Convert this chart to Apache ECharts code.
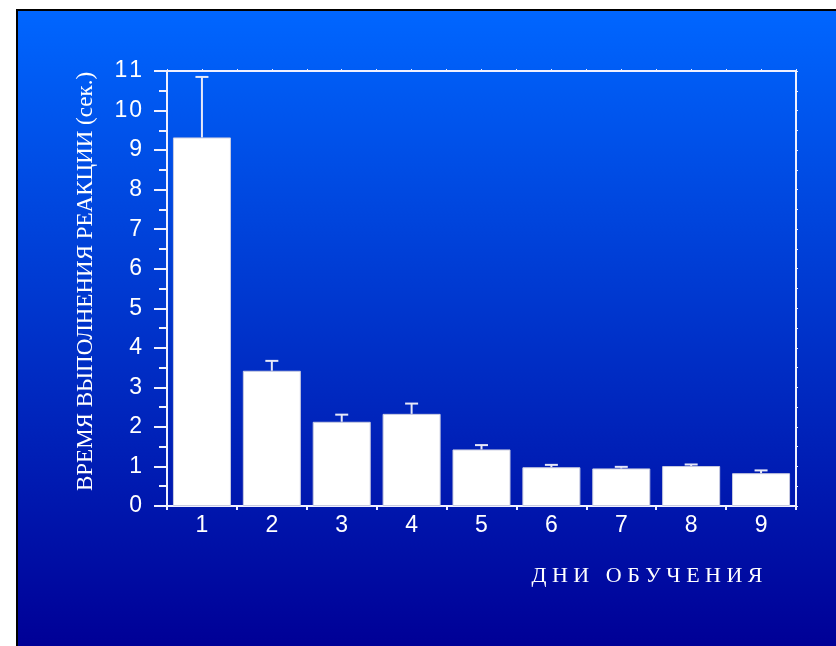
<!DOCTYPE html>
<html>
<head>
<meta charset="utf-8">
<script src="https://cdn.jsdelivr.net/npm/echarts@6/dist/echarts.min.js"></script>
<style>
  html, body { margin: 0; padding: 0; background: #ffffff; width: 836px; height: 646px; overflow: hidden; }
  #frame { position: absolute; left: 16px; top: 9px; width: 820px; height: 637px; border-left: 2px solid #000; border-top: 2px solid #000; box-sizing: border-box; }
  #chart { position: absolute; left: 18px; top: 11px; width: 818px; height: 635px; }
</style>
</head>
<body>
<div id="frame"></div>
<div id="chart"></div>
<script>
// ---- data ----
const categories = ['1', '2', '3', '4', '5', '6', '7', '8', '9'];
const means = [9.32, 3.42, 2.13, 2.33, 1.43, 0.98, 0.95, 1.01, 0.83];
const errors = [1.53, 0.25, 0.18, 0.26, 0.11, 0.06, 0.04, 0.04, 0.07];
const yAxisTitle = 'ВРЕМЯ ВЫПОЛНЕНИЯ РЕАКЦИИ (сек.)';
const xAxisTitle = 'Д Н И   О Б У Ч Е Н И Я';

const chart = echarts.init(document.getElementById('chart'), null, { renderer: 'canvas' });

const errData = categories.map((c, i) => [i, means[i], errors[i]]);

const white = '#ffffff';
const lineCol = '#f0f0ff';
const spaced = (s) => String(s).split('').join('\u200A');

const option = {
  animation: false,
  backgroundColor: {
    type: 'linear', x: 0, y: 0, x2: 0, y2: 1,
    colorStops: [
      { offset: 0, color: '#0066ff' },
      { offset: 1, color: '#000096' }
    ]
  },
  grid: { left: 149, top: 60, width: 629, height: 435, containLabel: false },
  xAxis: [
    {
      type: 'category',
      data: categories,
      position: 'bottom',
      axisLine: { show: true, onZero: false, lineStyle: { color: lineCol, width: 2 } },
      axisTick: { show: true, length: 4, lineStyle: { color: lineCol, width: 2 } },
      axisLabel: { color: white, fontSize: 23, fontFamily: 'Liberation Sans, Arial, sans-serif', margin: 8 },
      splitLine: { show: false }
    },
    {
      type: 'value',
      min: 0, max: 9, interval: 0.5,
      position: 'top',
      axisLine: { show: true, onZero: false, lineStyle: { color: lineCol, width: 2 } },
      axisTick: { show: true, length: 2, lineStyle: { color: lineCol, width: 1 } },
      axisLabel: { show: false },
      splitLine: { show: false }
    }
  ],
  yAxis: [
    {
      type: 'value',
      min: 0, max: 11, interval: 1,
      position: 'left',
      axisLine: { show: true, onZero: false, lineStyle: { color: lineCol, width: 2 } },
      axisTick: { show: true, length: 13, lineStyle: { color: lineCol, width: 2 } },
      minorTick: { show: true, splitNumber: 2, length: 8, lineStyle: { color: lineCol, width: 2 } },
      axisLabel: { color: white, fontSize: 23, fontFamily: 'Liberation Sans, Arial, sans-serif', margin: 25, formatter: spaced },
      splitLine: { show: false },
      minorSplitLine: { show: false },
      name: yAxisTitle,
      nameLocation: 'middle',
      nameGap: 70,
      nameTextStyle: { color: white, fontSize: 23, fontFamily: 'Liberation Serif, Times New Roman, serif', padding: [0, 0, 0, 14] }
    },
    {
      type: 'value',
      min: 0, max: 11, interval: 1,
      position: 'right',
      axisLine: { show: true, onZero: false, lineStyle: { color: lineCol, width: 2 } },
      axisTick: { show: true, length: 2, lineStyle: { color: lineCol, width: 1 } },
      minorTick: { show: true, splitNumber: 2, length: 2, lineStyle: { color: lineCol, width: 1 } },
      axisLabel: { show: false },
      splitLine: { show: false },
      minorSplitLine: { show: false }
    }
  ],
  graphic: [
    {
      type: 'text',
      x: 629, y: 565,
      style: {
        text: xAxisTitle,
        fill: white,
        font: '22px "Liberation Serif", "Times New Roman", serif',
        align: 'center',
        verticalAlign: 'middle'
      }
    }
  ],
  series: [
    {
      type: 'bar',
      xAxisIndex: 0, yAxisIndex: 0,
      data: means,
      barWidth: '83%',
      itemStyle: { color: '#ffffff', borderColor: '#c8cbe0', borderWidth: 1 },
      z: 2
    },
    {
      type: 'custom',
      xAxisIndex: 0, yAxisIndex: 0,
      data: errData,
      encode: { x: 0, y: 1 },
      z: 3,
      renderItem: function (params, api) {
        const idx = api.value(0);
        const v = api.value(1);
        const e = api.value(2);
        const base = api.coord([idx, v]);
        const top = api.coord([idx, v + e]);
        const half = 6.5;
        const style = { stroke: '#e6e8f8', lineWidth: 2 };
        return {
          type: 'group',
          children: [
            { type: 'line', shape: { x1: base[0], y1: base[1], x2: top[0], y2: top[1] }, style: style },
            { type: 'line', shape: { x1: top[0] - half, y1: top[1], x2: top[0] + half, y2: top[1] }, style: style }
          ]
        };
      }
    }
  ]
};

chart.setOption(option);
</script>
</body>
</html>
